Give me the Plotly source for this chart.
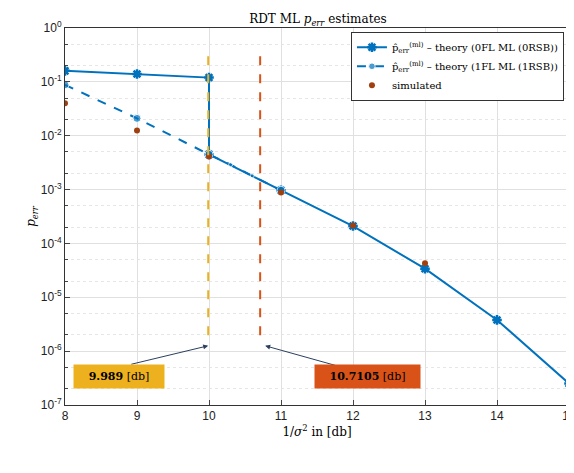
import plotly.graph_objects as go

x0 = [8, 9, 10, 10, 11, 12, 13, 14, 15]
y0 = [0.16, 0.14, 0.12, 0.0045, 9.7e-4, 2.1e-4, 3.4e-5, 3.8e-6, 2.5e-7]
x1 = [8, 9, 10, 10.3, 10.6, 11]
y1 = [0.088, 0.021, 0.0045, 0.0029, 0.0018, 9.7e-4]
xs = [8, 9, 10, 11, 12, 13]
ys = [0.04, 0.0125, 0.0041, 8.8e-4, 2.15e-4, 4.3e-5]
thr = [9.989, 10.7105]
thr_labels = ["<b>9.989</b> [db]", "<b>10.7105</b> [db]"]
yt = [10**-k for k in range(0, 8)]
ytl = ["10<sup>0</sup>"] + [f"10<sup>-{k}</sup>" for k in range(1, 8)]

blue = "#0072BD"; yel = "#EDB120"; ora = "#D95319"
fig = go.Figure()
fig.add_trace(go.Scatter(x=x0, y=y0, mode="lines+markers", line=dict(color=blue, width=2),
                         marker=dict(size=8, symbol="asterisk", line=dict(color=blue, width=2.5)),
                         name="p̂<sub>err</sub><sup>(ml)</sup> – theory (0FL ML (0RSB))"))
fig.add_trace(go.Scatter(x=x1, y=y1, mode="lines+markers", line=dict(color=blue, width=2, dash="dash"),
                         marker=dict(size=[8, 8, 8, 4, 4, 8], color=blue),
                         name="p̂<sub>err</sub><sup>(ml)</sup> – theory (1FL ML (1RSB))"))
fig.add_trace(go.Scatter(x=xs, y=ys, mode="markers", marker=dict(size=6, color="#A0400F"),
                         name="simulated"))
for t, c in zip(thr, [yel, ora]):
    fig.add_trace(go.Scatter(x=[t, t], y=[0.3, 1.4e-6], mode="lines", showlegend=False,
                             line=dict(color=c, width=2, dash="dash")))
fig.add_annotation(x=9.989, y=-5.9, ax=8.9, ay=-6.25, axref="x", ayref="y", xref="x", yref="y",
                   showarrow=True, arrowhead=2, arrowwidth=1, text="")
fig.add_annotation(x=10.78, y=-5.9, ax=11.85, ay=-6.3, axref="x", ayref="y", xref="x", yref="y",
                   showarrow=True, arrowhead=2, arrowwidth=1, text="")
fig.add_annotation(x=8.75, y=-6.47, xref="x", yref="y", text=thr_labels[0], showarrow=False,
                   bgcolor=yel, font=dict(family="DejaVu Serif", size=11, color="black"),
                   borderpad=5, width=80)
fig.add_annotation(x=12.2, y=-6.47, xref="x", yref="y", text=thr_labels[1], showarrow=False,
                   bgcolor=ora, font=dict(family="DejaVu Serif", size=11, color="black"),
                   borderpad=5, width=95)
ax = dict(showline=True, linecolor="#333", mirror=True, ticks="inside", gridcolor="#e0e0e0",
          automargin=False, tickfont=dict(family="Liberation Sans", size=12, color="#222"))
fig.update_layout(
    width=574, height=473, plot_bgcolor="white", paper_bgcolor="white",
    margin=dict(l=57, r=13, t=20, b=76),
    title=dict(text="RDT ML <i>p<sub>err</sub></i> estimates", x=0.54, y=0.985,
               font=dict(family="DejaVu Serif", size=12, color="black")),
    xaxis=dict(range=[8, 15], dtick=1, title=dict(text="1/<i>σ</i><sup>2</sup> in [db]", standoff=5,
               font=dict(family="DejaVu Serif", size=12, color="black")), **ax),
    yaxis=dict(type="log", range=[-7, 0], tickvals=yt, ticktext=ytl,
               minor=dict(showgrid=True, gridcolor="#e6e6e6", griddash="dot", ticks="inside", ticklen=3),
               title=dict(text="<i>p<sub>err</sub></i>", standoff=2,
                          font=dict(family="DejaVu Serif", size=12, color="black")), **ax),
    legend=dict(x=0.99, y=0.99, xanchor="right", yanchor="top", bordercolor="#333", borderwidth=1,
                bgcolor="white", font=dict(family="DejaVu Serif", size=10, color="black"),
                tracegroupgap=0),
)
fig.write_html("out.html")
